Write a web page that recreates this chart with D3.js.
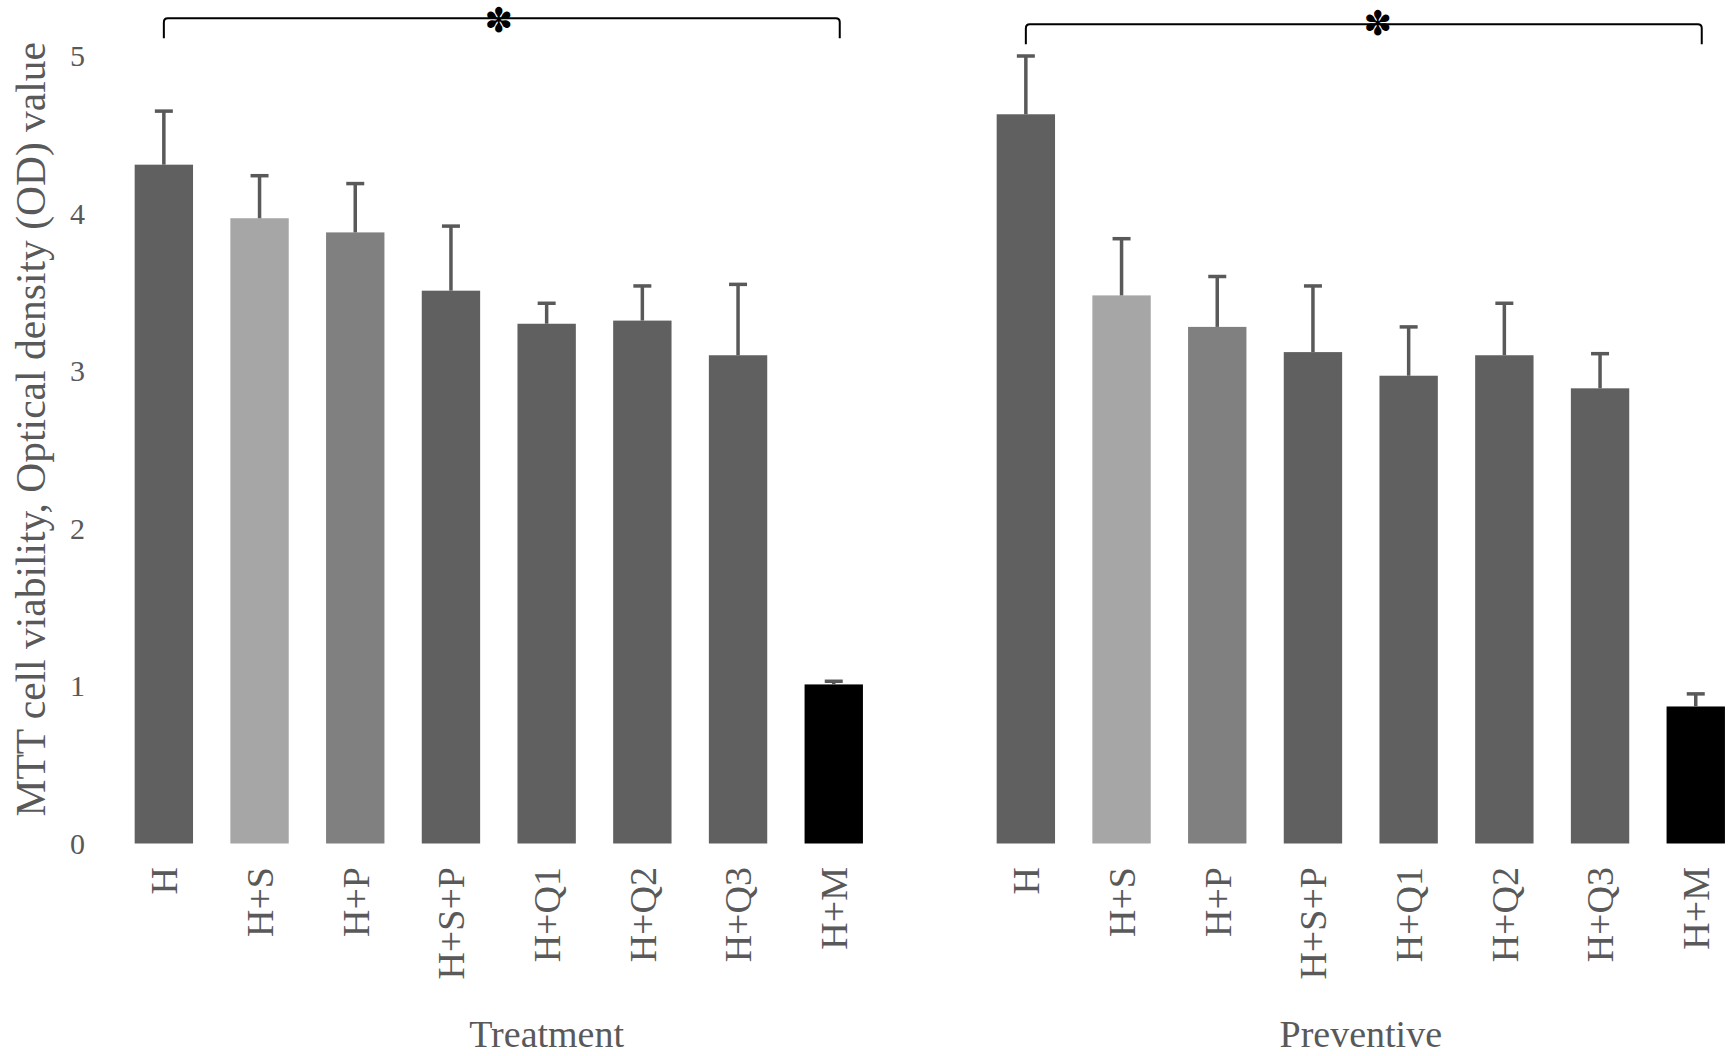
<!DOCTYPE html>
<html>
<head>
<meta charset="utf-8">
<script src="https://cdn.jsdelivr.net/npm/d3@7"></script>
<style>
  body { margin: 0; background: #fff; }
  text { font-family: "Liberation Serif", "Times New Roman", serif; }
</style>
</head>
<body>
<script>
var groups = ["H", "H+S", "H+P", "H+S+P", "H+Q1", "H+Q2", "H+Q3", "H+M"];
var treatment = [4.31, 3.97, 3.88, 3.51, 3.30, 3.32, 3.10, 1.01];
var treatmentErr = [0.34, 0.27, 0.31, 0.41, 0.13, 0.22, 0.45, 0.02];
var preventive = [4.63, 3.48, 3.28, 3.12, 2.97, 3.10, 2.89, 0.87];
var preventiveErr = [0.37, 0.36, 0.32, 0.42, 0.31, 0.33, 0.22, 0.08];
var yTicks = [0, 1, 2, 3, 4, 5];
var barColors = ["#606060", "#a6a6a6", "#808080", "#606060", "#606060", "#606060", "#606060", "#000000"];

var width = 1728, height = 1056;

var svg = d3.select("body").append("svg")
    .attr("width", width)
    .attr("height", height);

var y = d3.scaleLinear().domain([0, 5]).range([843.5, 56]);

// two panels share the same y scale
var xT = d3.scaleBand().domain(groups).range([116, 881.6]).paddingInner(0.39).paddingOuter(0.195);
var xP = d3.scaleBand().domain(groups).range([978, 1743.6]).paddingInner(0.39).paddingOuter(0.195);

// y axis (labels only)
var yAxis = svg.append("g")
    .attr("transform", "translate(85,0)")
    .call(d3.axisLeft(y).tickValues(yTicks).tickFormat(d3.format("d")).tickSize(0).tickPadding(0));
yAxis.select(".domain").remove();
yAxis.selectAll("text")
    .style("font-family", "Liberation Serif")
    .style("font-size", "30px")
    .attr("text-anchor", "end")
    .attr("fill", "#595959");

svg.append("text")
    .attr("transform", "translate(30," + y(2.63) + ") rotate(-90)")
    .attr("text-anchor", "middle")
    .attr("dy", "0.35em")
    .style("font-size", "41.5px")
    .attr("fill", "#595959")
    .text("MTT cell viability, Optical density (OD) value");

function drawPanel(x, vals, errs, title, titleX, starX, bracketY) {
  var g = svg.append("g");
  var bw = x.bandwidth();

  g.selectAll("rect.bar")
    .data(vals)
    .enter().append("rect")
    .attr("class", "bar")
    .attr("x", function(d, i) { return x(groups[i]); })
    .attr("y", function(d) { return y(d); })
    .attr("width", bw)
    .attr("height", function(d) { return y(0) - y(d); })
    .attr("fill", function(d, i) { return barColors[i]; });

  // error bars, upper side only
  g.selectAll("line.stem")
    .data(vals)
    .enter().append("line")
    .attr("x1", function(d, i) { return x(groups[i]) + bw / 2; })
    .attr("x2", function(d, i) { return x(groups[i]) + bw / 2; })
    .attr("y1", function(d) { return y(d); })
    .attr("y2", function(d, i) { return y(d + errs[i]); })
    .attr("stroke", "#595959")
    .attr("stroke-width", 3.5);
  g.selectAll("line.cap")
    .data(vals)
    .enter().append("line")
    .attr("x1", function(d, i) { return x(groups[i]) + bw / 2 - 9; })
    .attr("x2", function(d, i) { return x(groups[i]) + bw / 2 + 9; })
    .attr("y1", function(d, i) { return y(d + errs[i]); })
    .attr("y2", function(d, i) { return y(d + errs[i]); })
    .attr("stroke", "#595959")
    .attr("stroke-width", 3.5);

  // category labels, rotated
  g.selectAll("text.cat")
    .data(groups)
    .enter().append("text")
    .attr("transform", function(d) { return "translate(" + (x(d) + bw / 2) + ",867) rotate(-90)"; })
    .attr("text-anchor", "end")
    .attr("dy", "0.35em")
    .style("font-size", "38px")
    .attr("fill", "#595959")
    .text(function(d) { return d; });

  g.append("text")
    .attr("x", titleX)
    .attr("y", 1047)
    .attr("text-anchor", "middle")
    .style("font-size", "38px")
    .attr("fill", "#595959")
    .text(title);

  // significance bracket
  var x1 = x(groups[0]) + bw / 2,
      x2 = x(groups[groups.length - 1]) + bw / 2 + 6,
      yb = bracketY + 20, r = 4;
  g.append("path")
    .attr("d", "M" + x1 + "," + yb + " L" + x1 + "," + (bracketY + r) +
         " Q" + x1 + "," + bracketY + " " + (x1 + r) + "," + bracketY +
         " L" + (x2 - r) + "," + bracketY +
         " Q" + x2 + "," + bracketY + " " + x2 + "," + (bracketY + r) +
         " L" + x2 + "," + yb)
    .attr("fill", "none")
    .attr("stroke", "#000")
    .attr("stroke-width", 2);

  // asterisk glyph sits roughly 0.3em above its baseline
  g.append("text")
    .attr("x", starX)
    .attr("y", Math.max(bracketY + 10.5, 32))
    .attr("text-anchor", "middle")
    .style("font-family", "DejaVu Sans")
    .style("font-size", "34px")
    .attr("fill", "#000")
    .text("\u273D");
}

var midT = (xT("H") + xT("H+M") + xT.bandwidth()) / 2;
var midP = (xP("H") + xP("H+M") + xP.bandwidth()) / 2;

drawPanel(xT, treatment, treatmentErr, "Treatment", xT("H+Q1") + xT.bandwidth() / 2, midT, 18.3);
drawPanel(xP, preventive, preventiveErr, "Preventive", midP, midP + 17, 24.3);
</script>
</body>
</html>
